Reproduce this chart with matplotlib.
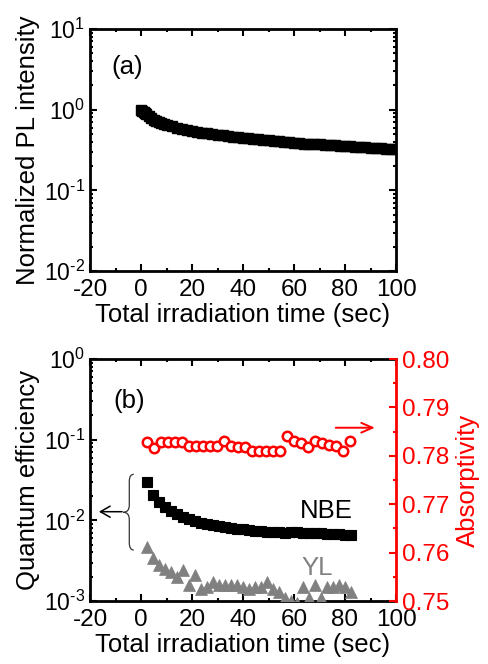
import matplotlib
matplotlib.use("Agg")
import matplotlib.pyplot as plt
from matplotlib.path import Path
from matplotlib.patches import PathPatch, FancyArrowPatch
from matplotlib.ticker import (MultipleLocator, LogLocator, NullFormatter,
                               FormatStrFormatter, FuncFormatter)
import math

plt.rcParams['font.family'] = ['Liberation Sans', 'DejaVu Sans']
plt.rcParams['mathtext.fontset'] = 'custom'
plt.rcParams['mathtext.rm'] = 'Liberation Sans'
plt.rcParams['mathtext.it'] = 'Liberation Sans'
plt.rcParams['axes.unicode_minus'] = False
FS_LAB = 18.5
FS_X = 17.5
FS_Y = 16.5

# ---- data (a) ----
t_pl = [0, 0.5, 1, 1.5, 2, 3, 4, 5, 6, 7, 8, 9, 10, 12, 14, 16, 18, 20, 22, 24, 26, 28,
        30, 32, 34, 36, 38, 40, 42, 44, 46, 48, 50, 52, 54, 56, 58, 60, 62, 64, 66, 68,
        70, 72, 74, 76, 78, 80, 82, 84, 86, 88, 90, 92, 94, 96, 98, 100]
pl_int = [1.00, 0.97, 0.94, 0.91, 0.88, 0.83, 0.79, 0.755, 0.725, 0.70, 0.68, 0.665, 0.65,
          0.62, 0.60, 0.58, 0.565, 0.55, 0.535, 0.52, 0.51, 0.50, 0.49, 0.48, 0.47, 0.46,
          0.455, 0.45, 0.44, 0.435, 0.43, 0.42, 0.415, 0.41, 0.405, 0.40, 0.395, 0.39,
          0.385, 0.38, 0.378, 0.375, 0.37, 0.367, 0.363, 0.36, 0.357, 0.354, 0.35, 0.347,
          0.344, 0.341, 0.338, 0.335, 0.333, 0.33, 0.328, 0.325]

# ---- data (b) ----
t_qe = [2.5, 4.8, 7.2, 9.5, 11.9, 14.2, 16.6, 18.9, 21.3, 23.6, 26.0, 28.3, 30.7, 33.0,
        35.4, 37.7, 40.1, 42.4, 44.8, 47.1, 49.5, 51.8, 54.2, 56.5, 58.9, 61.2, 63.6,
        65.9, 68.3, 70.6, 73.0, 75.3, 77.7, 80.0, 82.4]
nbe = [0.0302, 0.0205, 0.0170, 0.0148, 0.0132, 0.0121, 0.0111, 0.0104, 0.0097, 0.0092,
       0.0090, 0.0088, 0.0085, 0.0082, 0.0080, 0.0078, 0.0077, 0.0076, 0.0074, 0.0073,
       0.0072, 0.0072, 0.0071, 0.0070, 0.0071, 0.0071, 0.0070, 0.0069, 0.0070, 0.0069,
       0.0068, 0.0068, 0.0067, 0.0066, 0.0066]
yl = [0.0047, 0.0034, 0.0028, 0.0025, 0.0023, 0.0020, 0.0024, 0.0016, 0.0021, 0.0014,
      0.0015, 0.0017, 0.0016, 0.0016, 0.0016, 0.0016, 0.0015, 0.0014, 0.0015, 0.0015,
      0.0017, 0.0014, 0.0013, 0.0011, 0.0010, 0.00095, 0.0015, 0.0011, 0.0016, 0.0011,
      0.0015, 0.0015, 0.0016, 0.0015, 0.0013]
t_abs = [2.2, 5.0, 7.7, 10.5, 13.2, 16.0, 18.7, 21.5, 24.2, 27.0, 29.7, 32.5, 35.2, 38.0,
         40.7, 43.5, 46.2, 49.0, 51.7, 54.5, 57.2, 60.0, 62.7, 65.5, 68.2, 71.0, 73.7,
         76.5, 79.2, 82.0]
absorp = [0.7829, 0.7817, 0.7829, 0.7829, 0.7829, 0.7829, 0.7820, 0.7820, 0.7820, 0.7820,
          0.7820, 0.7831, 0.7820, 0.7819, 0.7819, 0.7810, 0.7810, 0.7810, 0.7810, 0.7810,
          0.7840, 0.7831, 0.7827, 0.7819, 0.7831, 0.7827, 0.7822, 0.7820, 0.7809, 0.7831]

W, H = 488, 664
fig = plt.figure(figsize=(W / 100, H / 100), dpi=100)


def pow_fmt(v, pos):
    e = int(round(math.log10(v)))
    if e < 0:
        return r'$\mathregular{10^{\text{-}%d}}$' % (-e)
    return r'$\mathregular{10^{%d}}$' % e


def style_axis(ax):
    for s in ax.spines.values():
        s.set_linewidth(2)
    ax.tick_params(which='both', direction='in', width=1.5)
    ax.tick_params(axis='x', labelsize=FS_X, pad=5.5)
    ax.tick_params(axis='y', labelsize=FS_Y, pad=3.5)
    ax.tick_params(which='major', length=5)
    ax.tick_params(which='minor', length=2.5)


def log_ticks(ax):
    ax.xaxis.set_major_locator(MultipleLocator(20))
    ax.xaxis.set_minor_locator(MultipleLocator(10))
    ax.yaxis.set_major_locator(LogLocator(base=10, numticks=10))
    ax.yaxis.set_major_formatter(FuncFormatter(pow_fmt))
    ax.yaxis.set_minor_locator(LogLocator(base=10, subs=range(2, 10), numticks=20))
    ax.yaxis.set_minor_formatter(NullFormatter())


# ---- panel (a) ----
ax1 = fig.add_axes([90 / W, 1 - 271 / H, 306 / W, 242 / H])
ax1.semilogy(t_pl, pl_int, 's', color='black', ms=7.2, mew=1.0, mec='black')
ax1.set_xlim(-20, 100)
ax1.set_ylim(1e-2, 1e1)
log_ticks(ax1)
style_axis(ax1)
ax1.tick_params(which='both', top=True, right=True)
ax1.set_xlabel('Total irradiation time (sec)', fontsize=FS_LAB, labelpad=2)
ax1.set_ylabel('Normalized PL intensity', fontsize=FS_LAB, labelpad=3)
ax1.text(0.071, 0.844, '(a)', transform=ax1.transAxes, fontsize=FS_LAB, va='center')

# ---- panel (b) ----
ax2 = fig.add_axes([90 / W, 1 - 601 / H, 306 / W, 242 / H])
ax2.semilogy(t_qe, nbe, 's', color='black', ms=6.8, mew=0.8, mec='black', zorder=3)
ax2.semilogy(t_qe, yl, '^', color='#808080', ms=9, mew=0.5, mec='#808080', zorder=3)
ax2.set_xlim(-20, 100)
ax2.set_ylim(1e-3, 1e0)
log_ticks(ax2)
style_axis(ax2)
ax2.tick_params(which='both', top=True, right=False)
ax2.spines['right'].set_visible(False)
ax2.set_xlabel('Total irradiation time (sec)', fontsize=FS_LAB, labelpad=2)
ax2.set_ylabel('Quantum efficiency', fontsize=FS_LAB, labelpad=3)
ax2.text(0.075, 0.825, '(b)', transform=ax2.transAxes, fontsize=FS_LAB, va='center')
ax2.text(0.686, 0.372, 'NBE', transform=ax2.transAxes, fontsize=FS_LAB, va='center', color='black')
ax2.text(0.690, 0.138, 'YL', transform=ax2.transAxes, fontsize=FS_LAB, va='center', color='#808080')

ax3 = ax2.twinx()
ax3.plot(t_abs, absorp, 'o', mfc='white', mec='red', color='red', ms=6.8, mew=1.8)
ax3.set_ylim(0.75, 0.80)
ax3.yaxis.set_major_locator(MultipleLocator(0.01))
ax3.yaxis.set_minor_locator(MultipleLocator(0.005))
ax3.yaxis.set_major_formatter(FormatStrFormatter('%.2f'))
for s in ax3.spines.values():
    s.set_visible(False)
ax3.spines['right'].set_visible(True)
ax3.spines['right'].set_linewidth(2)
ax3.spines['right'].set_color('red')
ax3.tick_params(which='both', direction='in', labelsize=FS_X, width=1.5, pad=4,
                colors='red', right=True, left=False, top=False, bottom=False)
ax3.tick_params(which='major', length=5)
ax3.tick_params(which='minor', length=2.5)
ax3.set_ylabel('Absorptivity', fontsize=FS_LAB, color='red', labelpad=5)

# red arrow (points to right axis)
ax2.add_patch(FancyArrowPatch((0.794, 0.716), (0.94, 0.716), transform=ax2.transAxes,
                              arrowstyle='->,head_length=8,head_width=3.5', color='red',
                              lw=1.4, mutation_scale=1, clip_on=False))
# black arrow (points to left axis)
ax2.add_patch(FancyArrowPatch((0.114, 0.369), (0.020, 0.369), transform=ax2.transAxes,
                              arrowstyle='->,head_length=7,head_width=4', color='black',
                              lw=1.1, mutation_scale=1, clip_on=False))
# curly brace
xr, xm, xt = 0.1430, 0.1284, 0.1088
yt, ym, yb = 0.5236, 0.3665, 0.2107
verts = [(xr, yt), (xm, yt), (xm, yt - 0.03),
         (xm, ym + 0.03),
         (xm, ym), (xt, ym),
         (xm, ym), (xm, ym - 0.03),
         (xm, yb + 0.03),
         (xm, yb), (xr, yb)]
codes = [Path.MOVETO, Path.CURVE3, Path.CURVE3,
         Path.LINETO,
         Path.CURVE3, Path.CURVE3,
         Path.CURVE3, Path.CURVE3,
         Path.LINETO,
         Path.CURVE3, Path.CURVE3]
ax2.add_patch(PathPatch(Path(verts, codes), transform=ax2.transAxes, fill=False,
                        edgecolor='#333333', lw=0.9, clip_on=False))

fig.savefig('out.png', dpi=100)
